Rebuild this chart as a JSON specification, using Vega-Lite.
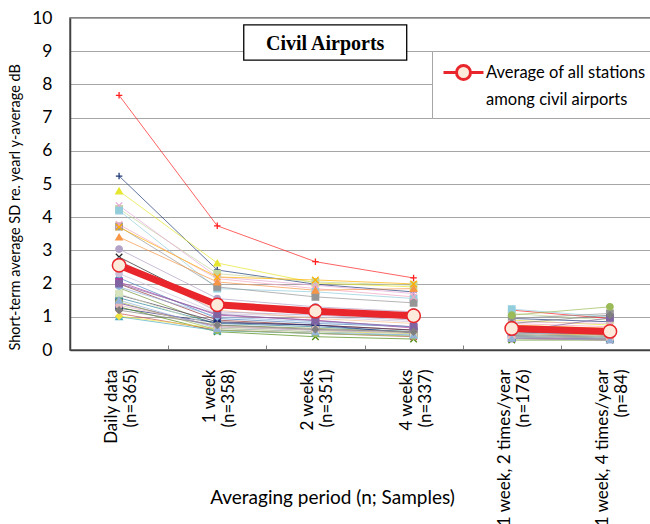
{
"$schema":"https://vega.github.io/schema/vega-lite/v6.json",
"width":582,"height":332,
"autosize":{"type":"none"},
"padding":{"left":70,"top":18,"right":0,"bottom":174},
"config":{"font":"Lato","view":{"stroke":"#595959","strokeWidth":1.5},"style":{"guide-label":{"lineHeight":27}},"axisY":{"tickCount":11,"labelOverlap":false}},
"datasets":{
"stations":[
{"station":"S01","period":"Daily data|(n=365)","sd":7.67},{"station":"S01","period":"1 week|(n=358)","sd":3.74},{"station":"S01","period":"2 weeks|(n=351)","sd":2.66},{"station":"S01","period":"4 weeks|(n=337)","sd":2.17},{"station":"S01","period":"1 week, 2 times/year|(n=176)","sd":1.2},{"station":"S01","period":"1 week, 4 times/year|(n=84)","sd":0.95},
{"station":"S02","period":"Daily data|(n=365)","sd":5.24},{"station":"S02","period":"1 week|(n=358)","sd":2.41},{"station":"S02","period":"2 weeks|(n=351)","sd":1.98},{"station":"S02","period":"4 weeks|(n=337)","sd":1.75},{"station":"S02","period":"1 week, 2 times/year|(n=176)","sd":0.95},{"station":"S02","period":"1 week, 4 times/year|(n=84)","sd":0.85},
{"station":"S03","period":"Daily data|(n=365)","sd":4.79},{"station":"S03","period":"1 week|(n=358)","sd":2.62},{"station":"S03","period":"2 weeks|(n=351)","sd":2.02},{"station":"S03","period":"4 weeks|(n=337)","sd":1.9},{"station":"S03","period":"1 week, 2 times/year|(n=176)","sd":0.9},{"station":"S03","period":"1 week, 4 times/year|(n=84)","sd":0.75},
{"station":"S04","period":"Daily data|(n=365)","sd":4.25},{"station":"S04","period":"1 week|(n=358)","sd":2.3},{"station":"S04","period":"2 weeks|(n=351)","sd":2.05},{"station":"S04","period":"4 weeks|(n=337)","sd":1.95},{"station":"S04","period":"1 week, 2 times/year|(n=176)","sd":1.1},{"station":"S04","period":"1 week, 4 times/year|(n=84)","sd":0.9},
{"station":"S05","period":"Daily data|(n=365)","sd":4.35},{"station":"S05","period":"1 week|(n=358)","sd":2.2},{"station":"S05","period":"2 weeks|(n=351)","sd":1.95},{"station":"S05","period":"4 weeks|(n=337)","sd":1.7},{"station":"S05","period":"1 week, 2 times/year|(n=176)","sd":0.85},{"station":"S05","period":"1 week, 4 times/year|(n=84)","sd":0.8},
{"station":"S06","period":"Daily data|(n=365)","sd":4.2},{"station":"S06","period":"1 week|(n=358)","sd":1.85},{"station":"S06","period":"2 weeks|(n=351)","sd":1.75},{"station":"S06","period":"4 weeks|(n=337)","sd":1.55},{"station":"S06","period":"1 week, 2 times/year|(n=176)","sd":1.23},{"station":"S06","period":"1 week, 4 times/year|(n=84)","sd":1.0},
{"station":"S07","period":"Daily data|(n=365)","sd":3.72},{"station":"S07","period":"1 week|(n=358)","sd":1.9},{"station":"S07","period":"2 weeks|(n=351)","sd":1.6},{"station":"S07","period":"4 weeks|(n=337)","sd":1.42},{"station":"S07","period":"1 week, 2 times/year|(n=176)","sd":0.95},{"station":"S07","period":"1 week, 4 times/year|(n=84)","sd":1.1},
{"station":"S08","period":"Daily data|(n=365)","sd":3.78},{"station":"S08","period":"1 week|(n=358)","sd":2.15},{"station":"S08","period":"2 weeks|(n=351)","sd":1.85},{"station":"S08","period":"4 weeks|(n=337)","sd":1.6},{"station":"S08","period":"1 week, 2 times/year|(n=176)","sd":0.8},{"station":"S08","period":"1 week, 4 times/year|(n=84)","sd":0.7},
{"station":"S09","period":"Daily data|(n=365)","sd":3.4},{"station":"S09","period":"1 week|(n=358)","sd":2.05},{"station":"S09","period":"2 weeks|(n=351)","sd":1.8},{"station":"S09","period":"4 weeks|(n=337)","sd":1.85},{"station":"S09","period":"1 week, 2 times/year|(n=176)","sd":0.7},{"station":"S09","period":"1 week, 4 times/year|(n=84)","sd":0.6},
{"station":"S10","period":"Daily data|(n=365)","sd":3.7},{"station":"S10","period":"1 week|(n=358)","sd":2.2},{"station":"S10","period":"2 weeks|(n=351)","sd":2.11},{"station":"S10","period":"4 weeks|(n=337)","sd":1.99},{"station":"S10","period":"1 week, 2 times/year|(n=176)","sd":0.75},{"station":"S10","period":"1 week, 4 times/year|(n=84)","sd":0.65},
{"station":"S11","period":"Daily data|(n=365)","sd":3.04},{"station":"S11","period":"1 week|(n=358)","sd":1.55},{"station":"S11","period":"2 weeks|(n=351)","sd":1.3},{"station":"S11","period":"4 weeks|(n=337)","sd":1.15},{"station":"S11","period":"1 week, 2 times/year|(n=176)","sd":0.6},{"station":"S11","period":"1 week, 4 times/year|(n=84)","sd":0.5},
{"station":"S12","period":"Daily data|(n=365)","sd":2.8},{"station":"S12","period":"1 week|(n=358)","sd":1.3},{"station":"S12","period":"2 weeks|(n=351)","sd":1.1},{"station":"S12","period":"4 weeks|(n=337)","sd":0.95},{"station":"S12","period":"1 week, 2 times/year|(n=176)","sd":0.55},{"station":"S12","period":"1 week, 4 times/year|(n=84)","sd":0.45},
{"station":"S13","period":"Daily data|(n=365)","sd":2.17},{"station":"S13","period":"1 week|(n=358)","sd":0.95},{"station":"S13","period":"2 weeks|(n=351)","sd":0.8},{"station":"S13","period":"4 weeks|(n=337)","sd":0.7},{"station":"S13","period":"1 week, 2 times/year|(n=176)","sd":0.5},{"station":"S13","period":"1 week, 4 times/year|(n=84)","sd":0.45},
{"station":"S14","period":"Daily data|(n=365)","sd":1.99},{"station":"S14","period":"1 week|(n=358)","sd":0.9},{"station":"S14","period":"2 weeks|(n=351)","sd":0.75},{"station":"S14","period":"4 weeks|(n=337)","sd":0.6},{"station":"S14","period":"1 week, 2 times/year|(n=176)","sd":0.45},{"station":"S14","period":"1 week, 4 times/year|(n=84)","sd":0.4},
{"station":"S15","period":"Daily data|(n=365)","sd":2.05},{"station":"S15","period":"1 week|(n=358)","sd":1.05},{"station":"S15","period":"2 weeks|(n=351)","sd":0.9},{"station":"S15","period":"4 weeks|(n=337)","sd":0.66},{"station":"S15","period":"1 week, 2 times/year|(n=176)","sd":0.5},{"station":"S15","period":"1 week, 4 times/year|(n=84)","sd":0.45},
{"station":"S16","period":"Daily data|(n=365)","sd":1.87},{"station":"S16","period":"1 week|(n=358)","sd":0.75},{"station":"S16","period":"2 weeks|(n=351)","sd":0.65},{"station":"S16","period":"4 weeks|(n=337)","sd":0.55},{"station":"S16","period":"1 week, 2 times/year|(n=176)","sd":0.4},{"station":"S16","period":"1 week, 4 times/year|(n=84)","sd":0.35},
{"station":"S17","period":"Daily data|(n=365)","sd":1.66},{"station":"S17","period":"1 week|(n=358)","sd":0.85},{"station":"S17","period":"2 weeks|(n=351)","sd":0.75},{"station":"S17","period":"4 weeks|(n=337)","sd":0.6},{"station":"S17","period":"1 week, 2 times/year|(n=176)","sd":0.45},{"station":"S17","period":"1 week, 4 times/year|(n=84)","sd":0.4},
{"station":"S18","period":"Daily data|(n=365)","sd":1.57},{"station":"S18","period":"1 week|(n=358)","sd":0.8},{"station":"S18","period":"2 weeks|(n=351)","sd":0.7},{"station":"S18","period":"4 weeks|(n=337)","sd":0.55},{"station":"S18","period":"1 week, 2 times/year|(n=176)","sd":0.45},{"station":"S18","period":"1 week, 4 times/year|(n=84)","sd":0.4},
{"station":"S19","period":"Daily data|(n=365)","sd":1.41},{"station":"S19","period":"1 week|(n=358)","sd":0.7},{"station":"S19","period":"2 weeks|(n=351)","sd":0.6},{"station":"S19","period":"4 weeks|(n=337)","sd":0.5},{"station":"S19","period":"1 week, 2 times/year|(n=176)","sd":0.35},{"station":"S19","period":"1 week, 4 times/year|(n=84)","sd":0.33},
{"station":"S20","period":"Daily data|(n=365)","sd":1.26},{"station":"S20","period":"1 week|(n=358)","sd":0.82},{"station":"S20","period":"2 weeks|(n=351)","sd":0.75},{"station":"S20","period":"4 weeks|(n=337)","sd":0.51},{"station":"S20","period":"1 week, 2 times/year|(n=176)","sd":0.4},{"station":"S20","period":"1 week, 4 times/year|(n=84)","sd":0.35},
{"station":"S21","period":"Daily data|(n=365)","sd":1.3},{"station":"S21","period":"1 week|(n=358)","sd":0.55},{"station":"S21","period":"2 weeks|(n=351)","sd":0.4},{"station":"S21","period":"4 weeks|(n=337)","sd":0.33},{"station":"S21","period":"1 week, 2 times/year|(n=176)","sd":0.3},{"station":"S21","period":"1 week, 4 times/year|(n=84)","sd":0.3},
{"station":"S22","period":"Daily data|(n=365)","sd":1.1},{"station":"S22","period":"1 week|(n=358)","sd":0.6},{"station":"S22","period":"2 weeks|(n=351)","sd":0.5},{"station":"S22","period":"4 weeks|(n=337)","sd":0.4},{"station":"S22","period":"1 week, 2 times/year|(n=176)","sd":0.35},{"station":"S22","period":"1 week, 4 times/year|(n=84)","sd":0.3},
{"station":"S23","period":"Daily data|(n=365)","sd":1.0},{"station":"S23","period":"1 week|(n=358)","sd":0.58},{"station":"S23","period":"2 weeks|(n=351)","sd":0.5},{"station":"S23","period":"4 weeks|(n=337)","sd":0.45},{"station":"S23","period":"1 week, 2 times/year|(n=176)","sd":0.4},{"station":"S23","period":"1 week, 4 times/year|(n=84)","sd":0.35},
{"station":"S24","period":"Daily data|(n=365)","sd":1.02},{"station":"S24","period":"1 week|(n=358)","sd":0.65},{"station":"S24","period":"2 weeks|(n=351)","sd":0.55},{"station":"S24","period":"4 weeks|(n=337)","sd":0.5},{"station":"S24","period":"1 week, 2 times/year|(n=176)","sd":0.5},{"station":"S24","period":"1 week, 4 times/year|(n=84)","sd":0.45},
{"station":"S25","period":"Daily data|(n=365)","sd":1.45},{"station":"S25","period":"1 week|(n=358)","sd":0.6},{"station":"S25","period":"2 weeks|(n=351)","sd":0.5},{"station":"S25","period":"4 weeks|(n=337)","sd":0.42},{"station":"S25","period":"1 week, 2 times/year|(n=176)","sd":1.05},{"station":"S25","period":"1 week, 4 times/year|(n=84)","sd":1.3},
{"station":"S26","period":"Daily data|(n=365)","sd":2.3},{"station":"S26","period":"1 week|(n=358)","sd":1.1},{"station":"S26","period":"2 weeks|(n=351)","sd":1.0},{"station":"S26","period":"4 weeks|(n=337)","sd":0.85},{"station":"S26","period":"1 week, 2 times/year|(n=176)","sd":0.7},{"station":"S26","period":"1 week, 4 times/year|(n=84)","sd":0.6},
{"station":"S27","period":"Daily data|(n=365)","sd":2.6},{"station":"S27","period":"1 week|(n=358)","sd":1.2},{"station":"S27","period":"2 weeks|(n=351)","sd":0.95},{"station":"S27","period":"4 weeks|(n=337)","sd":0.8},{"station":"S27","period":"1 week, 2 times/year|(n=176)","sd":0.6},{"station":"S27","period":"1 week, 4 times/year|(n=84)","sd":0.55},
{"station":"S28","period":"Daily data|(n=365)","sd":1.9},{"station":"S28","period":"1 week|(n=358)","sd":1.0},{"station":"S28","period":"2 weeks|(n=351)","sd":0.85},{"station":"S28","period":"4 weeks|(n=337)","sd":0.7},{"station":"S28","period":"1 week, 2 times/year|(n=176)","sd":0.5},{"station":"S28","period":"1 week, 4 times/year|(n=84)","sd":0.5},
{"station":"S29","period":"Daily data|(n=365)","sd":1.7},{"station":"S29","period":"1 week|(n=358)","sd":0.7},{"station":"S29","period":"2 weeks|(n=351)","sd":0.6},{"station":"S29","period":"4 weeks|(n=337)","sd":0.5},{"station":"S29","period":"1 week, 2 times/year|(n=176)","sd":0.45},{"station":"S29","period":"1 week, 4 times/year|(n=84)","sd":0.4},
{"station":"S30","period":"Daily data|(n=365)","sd":1.35},{"station":"S30","period":"1 week|(n=358)","sd":0.72},{"station":"S30","period":"2 weeks|(n=351)","sd":0.62},{"station":"S30","period":"4 weeks|(n=337)","sd":0.55},{"station":"S30","period":"1 week, 2 times/year|(n=176)","sd":0.4},{"station":"S30","period":"1 week, 4 times/year|(n=84)","sd":0.35},
{"station":"S31","period":"Daily data|(n=365)","sd":2.7},{"station":"S31","period":"1 week|(n=358)","sd":1.15},{"station":"S31","period":"2 weeks|(n=351)","sd":1.05},{"station":"S31","period":"4 weeks|(n=337)","sd":0.9},{"station":"S31","period":"1 week, 2 times/year|(n=176)","sd":0.65},{"station":"S31","period":"1 week, 4 times/year|(n=84)","sd":0.55},
{"station":"S32","period":"Daily data|(n=365)","sd":1.5},{"station":"S32","period":"1 week|(n=358)","sd":0.65},{"station":"S32","period":"2 weeks|(n=351)","sd":0.55},{"station":"S32","period":"4 weeks|(n=337)","sd":0.45},{"station":"S32","period":"1 week, 2 times/year|(n=176)","sd":0.35},{"station":"S32","period":"1 week, 4 times/year|(n=84)","sd":0.3},
{"station":"S33","period":"Daily data|(n=365)","sd":2.0},{"station":"S33","period":"1 week|(n=358)","sd":1.08},{"station":"S33","period":"2 weeks|(n=351)","sd":0.88},{"station":"S33","period":"4 weeks|(n=337)","sd":0.7},{"station":"S33","period":"1 week, 2 times/year|(n=176)","sd":0.55},{"station":"S33","period":"1 week, 4 times/year|(n=84)","sd":0.97},
{"station":"S34","period":"Daily data|(n=365)","sd":1.2},{"station":"S34","period":"1 week|(n=358)","sd":0.75},{"station":"S34","period":"2 weeks|(n=351)","sd":0.62},{"station":"S34","period":"4 weeks|(n=337)","sd":0.55},{"station":"S34","period":"1 week, 2 times/year|(n=176)","sd":0.8},{"station":"S34","period":"1 week, 4 times/year|(n=84)","sd":1.05}
],
"avg":[
{"period":"Daily data|(n=365)","sd":2.55},{"period":"1 week|(n=358)","sd":1.36},{"period":"2 weeks|(n=351)","sd":1.17},{"period":"4 weeks|(n=337)","sd":1.03},{"period":"1 week, 2 times/year|(n=176)","sd":0.65},{"period":"1 week, 4 times/year|(n=84)","sd":0.56}
]
},
"layer":[
{"data":{"name":"stations"},
 "transform":[{"calculate":"indexof(datum.period,'times/year')>=0?'b':'a'","as":"seg"}],
 "mark":{"type":"line","strokeWidth":1,"opacity":0.7},
 "encoding":{
  "x":{"field":"period","type":"nominal","sort":["Daily data|(n=365)","1 week|(n=358)","2 weeks|(n=351)","4 weeks|(n=337)","1 week, 2 times/year|(n=176)","1 week, 4 times/year|(n=84)"],
   "scale":{"range":[0,589],"paddingInner":0,"paddingOuter":0},
   "axis":{"title":"Averaging period (n; Samples)","labelExpr":"split(datum.label,'|')","labelAngle":-90,"labelAlign":"right","labelBaseline":"middle","labelLineHeight":19,"labelFontSize":17,"labelColor":"#000","labelPadding":24,"labelOffset":-7.5,"labelOverlap":false,"labelLimit":400,"tickBand":"extent","tickSize":-5,"tickColor":"#808080","domainColor":"#404040","domainWidth":1.5,"grid":false,"titleFontSize":19,"titleFontWeight":"normal","titleColor":"#000","titleX":262,"titleY":147,"titleBaseline":"middle","titleAlign":"center"}},
  "y":{"field":"sd","type":"quantitative","scale":{"domain":[0,10],"nice":false},
   "axis":{"title":"Short-term average SD  re. yearl y-average  dB","values":[0,1,2,3,4,5,6,7,8,9,10],"tickCount":11,"labelOverlap":false,"grid":true,"gridColor":"#A6A6A6","domainColor":"#404040","domainWidth":1.5,"ticks":false,"labelFontSize":17.5,"labelColor":"#000","labelPadding":18,"titleFontSize":14.5,"titleFontWeight":"normal","titleColor":"#000","titleAnchor":"start","titleX":-48}},
  "color":{"field":"station","type":"nominal","legend":null,"scale":{"domain":["S01","S02","S03","S04","S05","S06","S07","S08","S09","S10","S11","S12","S13","S14","S15","S16","S17","S18","S19","S20","S21","S22","S23","S24","S25","S26","S27","S28","S29","S30","S31","S32","S33","S34"],"range":["#FF2020","#1F3A78","#E6E62E","#C3D69B","#E6A8D7","#92CDDC","#969696","#F4A6C0","#F79646","#FFB000","#B3A2C7","#262626","#4F81BD","#943634","#B03CA0","#77933C","#403151","#31859C","#7030A0","#1F2A7A","#4F8A10","#C0504D","#4BACC6","#F0E442","#9BBB59","#CCC0DA","#FAC090","#8DB4E2","#D7E4BD","#E6B9B8","#B1A0C7","#95B3D7","#8064A2","#7F7F7F"]}},
  "detail":{"field":"seg"}
 }},
{"data":{"name":"stations"},
 "mark":{"type":"point","filled":true,"size":42,"strokeWidth":1.3,"opacity":1},
 "encoding":{
  "x":{"field":"period","type":"nominal","sort":["Daily data|(n=365)","1 week|(n=358)","2 weeks|(n=351)","4 weeks|(n=337)","1 week, 2 times/year|(n=176)","1 week, 4 times/year|(n=84)"]},
  "y":{"field":"sd","type":"quantitative",
   "axis":{"title":"Short-term average SD  re. yearl y-average  dB","values":[0,1,2,3,4,5,6,7,8,9,10],"tickCount":11,"labelOverlap":false,"grid":true,"gridColor":"#A6A6A6","domainColor":"#404040","domainWidth":1.5,"ticks":false,"labelFontSize":17.5,"labelColor":"#000","labelPadding":18,"titleFontSize":14.5,"titleFontWeight":"normal","titleColor":"#000","titleAnchor":"start","titleX":-48}},
  "color":{"field":"station","type":"nominal","legend":null},
  "stroke":{"field":"station","type":"nominal","legend":null,"scale":{"domain":["S01","S02","S03","S04","S05","S06","S07","S08","S09","S10","S11","S12","S13","S14","S15","S16","S17","S18","S19","S20","S21","S22","S23","S24","S25","S26","S27","S28","S29","S30","S31","S32","S33","S34"],"range":["#FF2020","#1F3A78","#E6E62E","#C3D69B","#E6A8D7","#92CDDC","#969696","#F4A6C0","#F79646","#FFB000","#B3A2C7","#262626","#4F81BD","#943634","#B03CA0","#77933C","#403151","#31859C","#7030A0","#1F2A7A","#4F8A10","#C0504D","#4BACC6","#F0E442","#9BBB59","#CCC0DA","#FAC090","#8DB4E2","#D7E4BD","#E6B9B8","#B1A0C7","#95B3D7","#8064A2","#7F7F7F"]}},
  "shape":{"field":"station","type":"nominal","legend":null,"scale":{"domain":["S01","S02","S03","S04","S05","S06","S07","S08","S09","S10","S11","S12","S13","S14","S15","S16","S17","S18","S19","S20","S21","S22","S23","S24","S25","S26","S27","S28","S29","S30","S31","S32","S33","S34"],"range":["M-1,0H1M0,-1V1","M-1,0H1M0,-1V1","triangle-up","square","M-1,-1L1,1M-1,1L1,-1","square","square","M-1,-1L1,1M-1,1L1,-1","triangle-up","M-1,-1L1,1M-1,1L1,-1","circle","M-1,-1L1,1M-1,1L1,-1","diamond","circle","square","M-1,0H1M0,-1V1","M-1,-1L1,1M-1,1L1,-1","square","square","circle","M-1,-1L1,1M-1,1L1,-1","M-1,-1L1,1M-1,1L1,-1","triangle-up","diamond","circle","circle","triangle-up","diamond","square","circle","M-1,0H1M0,-1V1","triangle-up","square","diamond"]}}
 }},
{"data":{"name":"avg"},
 "transform":[{"calculate":"indexof(datum.period,'times/year')>=0?'b':'a'","as":"seg"}],
 "mark":{"type":"line","color":"#E8262B","strokeWidth":7},
 "encoding":{
  "x":{"field":"period","type":"nominal","sort":["Daily data|(n=365)","1 week|(n=358)","2 weeks|(n=351)","4 weeks|(n=337)","1 week, 2 times/year|(n=176)","1 week, 4 times/year|(n=84)"]},
  "y":{"field":"sd","type":"quantitative",
   "axis":{"title":"Short-term average SD  re. yearl y-average  dB","values":[0,1,2,3,4,5,6,7,8,9,10],"tickCount":11,"labelOverlap":false,"grid":true,"gridColor":"#A6A6A6","domainColor":"#404040","domainWidth":1.5,"ticks":false,"labelFontSize":17.5,"labelColor":"#000","labelPadding":18,"titleFontSize":14.5,"titleFontWeight":"normal","titleColor":"#000","titleAnchor":"start","titleX":-48}},
  "detail":{"field":"seg"}
 }},
{"data":{"name":"avg"},
 "mark":{"type":"point","filled":true,"size":180,"stroke":"#E8262B","strokeWidth":1.5,"opacity":1},
 "encoding":{
  "x":{"field":"period","type":"nominal","sort":["Daily data|(n=365)","1 week|(n=358)","2 weeks|(n=351)","4 weeks|(n=337)","1 week, 2 times/year|(n=176)","1 week, 4 times/year|(n=84)"]},
  "y":{"field":"sd","type":"quantitative",
   "axis":{"title":"Short-term average SD  re. yearl y-average  dB","values":[0,1,2,3,4,5,6,7,8,9,10],"tickCount":11,"labelOverlap":false,"grid":true,"gridColor":"#A6A6A6","domainColor":"#404040","domainWidth":1.5,"ticks":false,"labelFontSize":17.5,"labelColor":"#000","labelPadding":18,"titleFontSize":14.5,"titleFontWeight":"normal","titleColor":"#000","titleAnchor":"start","titleX":-48}},
  "fill":{"datum":"Average of all stations among civil airports","scale":{"range":["#FDEADA"]},
   "legend":{"title":null,"orient":"none","legendX":362,"legendY":33,"strokeColor":"#A6A6A6","fillColor":"#FFFFFF","padding":10,
    "symbolType":"M-2,0H-0.7M0.7,0H2M-0.7,0A0.7,0.7 0 1,1 0.7,0A0.7,0.7 0 1,1 -0.7,0Z",
    "symbolSize":400,"symbolOffset":10,"symbolStrokeColor":"#E8262B","symbolStrokeWidth":3,
    "labelExpr":"['Average of all stations','among civil airports']","labelFontSize":16.5,"labelColor":"#000","labelOffset":11,"labelLimit":400,"labelBaseline":"middle"}}
 }},
{"data":{"values":[{"label":"Civil Airports"}]},
 "mark":{"type":"rect","fill":"#FFFFFF","stroke":"#000000","strokeWidth":1.3},
 "encoding":{
  "x":{"datum":"1 week|(n=358)","bandPosition":0.77},
  "x2":{"datum":"4 weeks|(n=337)","bandPosition":0.43},
  "y":{"datum":9.79,"type":"quantitative",
   "axis":{"title":"Short-term average SD  re. yearl y-average  dB","values":[0,1,2,3,4,5,6,7,8,9,10],"tickCount":11,"labelOverlap":false,"grid":true,"gridColor":"#A6A6A6","domainColor":"#404040","domainWidth":1.5,"ticks":false,"labelFontSize":17.5,"labelColor":"#000","labelPadding":18,"titleFontSize":14.5,"titleFontWeight":"normal","titleColor":"#000","titleAnchor":"start","titleX":-48}},
  "y2":{"datum":8.73}
 }},
{"data":{"values":[{"label":"Civil Airports"}]},
 "mark":{"type":"text","font":"Times New Roman, Liberation Serif, DejaVu Serif, serif","fontWeight":"bold","fontSize":20,"color":"#000000"},
 "encoding":{
  "x":{"datum":"2 weeks|(n=351)","bandPosition":0.6},
  "y":{"datum":9.22,"type":"quantitative",
   "axis":{"title":"Short-term average SD  re. yearl y-average  dB","values":[0,1,2,3,4,5,6,7,8,9,10],"tickCount":11,"labelOverlap":false,"grid":true,"gridColor":"#A6A6A6","domainColor":"#404040","domainWidth":1.5,"ticks":false,"labelFontSize":17.5,"labelColor":"#000","labelPadding":18,"titleFontSize":14.5,"titleFontWeight":"normal","titleColor":"#000","titleAnchor":"start","titleX":-48}},
  "text":{"field":"label"}
 }}
]
}
